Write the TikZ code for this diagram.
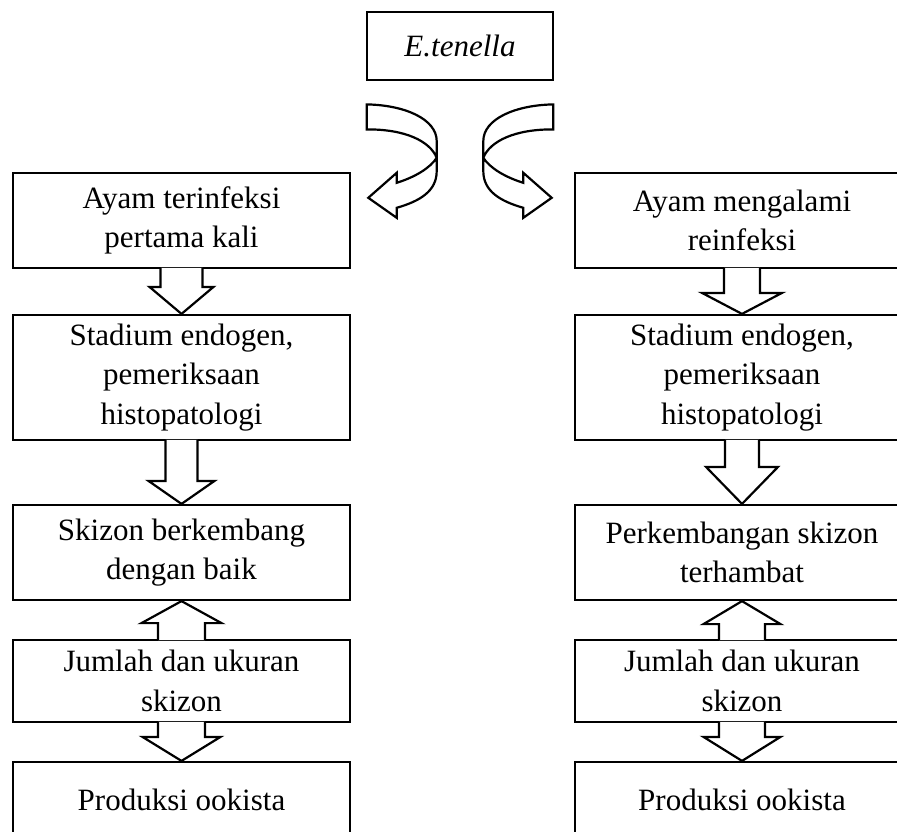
\documentclass[tikz,border=0pt]{standalone}
\usepackage{fontspec}
\setmainfont{Liberation Serif}
\usepackage{tikz}
\usetikzlibrary{calc}
\usetikzlibrary{positioning}

\tikzset{
  stage/.style={rectangle, draw=black, line width=2.2pt, inner sep=0pt, align=center,
    font=\fontsize{31}{39.5}\selectfont},
  blockarrow/.style={draw=black, fill=white, line width=2.2pt, line join=miter}
}

% hollow arrow from the bottom of #1 to the top of #2
\newcommand{\blockdown}[5]{%
  \draw [blockarrow] let \p1 = (#1.south), \p2 = (#2.north) in
    (\x1-#3pt, \y1+1.2pt) -- (\x1-#3pt, \y2+#5pt) -- (\x1-#4pt, \y2+#5pt) -- (\x1, \y2)
    -- (\x1+#4pt, \y2+#5pt) -- (\x1+#3pt, \y2+#5pt) -- (\x1+#3pt, \y1+1.2pt);
}
% hollow arrow from the top of #1 to the bottom of #2
\newcommand{\blockup}[5]{%
  \draw [blockarrow] let \p1 = (#1.north), \p2 = (#2.south) in
    (\x1-#3pt, \y1-1.2pt) -- (\x1-#3pt, \y2-#5pt) -- (\x1-#4pt, \y2-#5pt) -- (\x1, \y2)
    -- (\x1+#4pt, \y2-#5pt) -- (\x1+#3pt, \y2-#5pt) -- (\x1+#3pt, \y1-1.2pt);
}
% bent ribbon arrow below the top box
\newcommand{\bentarrow}{%
  \draw [blockarrow] (-93.3, 23.3) .. controls (-55, 24) and (-23.3, 38) .. (-23.3, 60)
    -- (-23.3, 90) .. controls (-23.3, 110) and (-40, 120) .. (-63.3, 126.7)
    -- (-63.3, 136.7) -- (-91.7, 116.7) -- (-63.3, 91.7) -- (-63.3, 101.7)
    .. controls (-45, 96) and (-30, 87) .. (-23.3, 76.7)
    .. controls (-30, 60) and (-55, 48) .. (-93.3, 48.3) -- cycle;
}

\begin{document}
\begin{tikzpicture}[x=1pt, y=-1pt]
\clip (0, 0) rectangle (897, 831);

\node [stage, minimum width=186, minimum height=68] (top) at (460, 46) {\textit{E.tenella}};

% first infection
\node [stage, minimum width=337, minimum height=95] (L1) at (181.5, 220.5) {Ayam terinfeksi\\pertama kali};
\node [stage, minimum width=337, minimum height=125] (L2) at (181.5, 377.5) {Stadium endogen,\\pemeriksaan\\histopatologi};
\node [stage, minimum width=337, minimum height=95] (L3) at (181.5, 552.5) {Skizon berkembang\\dengan baik};
\node [stage, minimum width=337, minimum height=82] (L4) at (181.5, 681) {Jumlah dan ukuran\\skizon};
\node [stage, minimum width=337, minimum height=76] (L5) at (181.5, 800) {Produksi ookista};

% reinfection
\node [stage, minimum width=334, minimum height=95] (R1) at (742, 220.5) {Ayam mengalami\\reinfeksi};
\node [stage, minimum width=334, minimum height=125] (R2) at (742, 377.5) {Stadium endogen,\\pemeriksaan\\histopatologi};
\node [stage, minimum width=334, minimum height=95] (R3) at (742, 552.5) {Perkembangan skizon\\terhambat};
\node [stage, minimum width=334, minimum height=82] (R4) at (742, 681) {Jumlah dan ukuran\\skizon};
\node [stage, minimum width=334, minimum height=76] (R5) at (742, 800) {Produksi ookista};

\begin{scope}[shift={(top.south)}]
  \bentarrow
\end{scope}
\begin{scope}[shift={(top.south)}, xscale=-1]
  \bentarrow
\end{scope}

\blockdown{L1}{L2}{21}{32}{27}
\blockdown{L2}{L3}{16}{33}{23}
\blockup{L4}{L3}{23.5}{40}{22}
\blockdown{L4}{L5}{23.5}{39}{24}

\blockdown{R1}{R2}{18}{40}{21}
\blockdown{R2}{R3}{17}{36}{37}
\blockup{R4}{R3}{23}{38.5}{23}
\blockdown{R4}{R5}{23}{38.5}{24}
\end{tikzpicture}
\end{document}
